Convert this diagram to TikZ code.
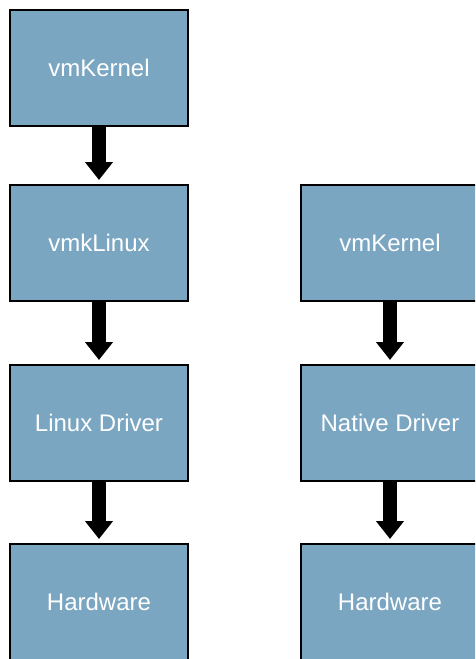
\documentclass[tikz,border=0pt]{standalone}
\usepackage{fontspec}
\setmainfont{Liberation Sans}
\usetikzlibrary{arrows.meta}
\definecolor{boxblue}{RGB}{123,166,194}
\begin{document}
\begin{tikzpicture}[x=1pt,y=-1pt,
  box/.style={draw=black, line width=2pt, fill=boxblue, minimum width=178pt, minimum height=116pt, inner sep=0pt, text=white, font=\fontsize{24}{28}\selectfont},
  flow/.style={line width=14pt, -{Triangle[width=27pt,length=18pt]}}]
\clip (0,0) rectangle (475,659);
\node[box] (k1) at (99,68) {vmKernel};
\node[box] (l1) at (99,243) {vmkLinux};
\node[box] (d1) at (99,423) {Linux Driver};
\node[box] (h1) at (99,602) {Hardware};
\node[box] (k2) at (390,243) {vmKernel};
\node[box] (d2) at (390,423) {Native Driver};
\node[box] (h2) at (390,602) {Hardware};
\draw[flow] (k1.south) -- ([yshift=4pt]l1.north);
\draw[flow] (l1.south) -- ([yshift=4pt]d1.north);
\draw[flow] (d1.south) -- ([yshift=4pt]h1.north);
\draw[flow] (k2.south) -- ([yshift=4pt]d2.north);
\draw[flow] (d2.south) -- ([yshift=4pt]h2.north);
\end{tikzpicture}
\end{document}
